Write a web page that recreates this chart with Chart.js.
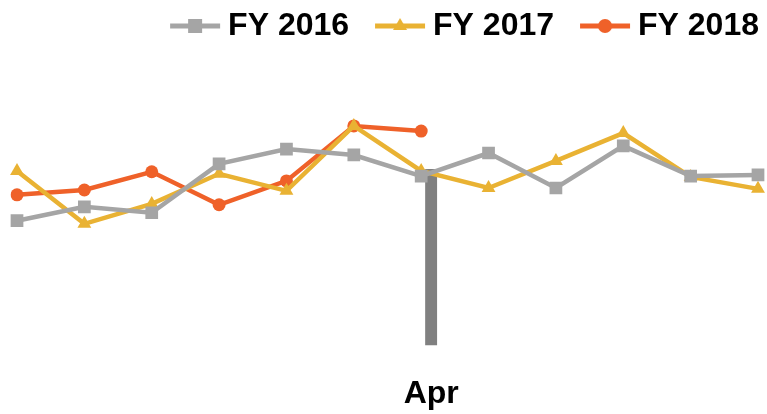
<!DOCTYPE html>
<html>
<head>
<meta charset="utf-8">
<script src="https://cdn.jsdelivr.net/npm/chart.js@4/dist/chart.umd.min.js"></script>
<style>
  html, body { margin: 0; padding: 0; background: #fff; }
  #wrap { width: 767px; height: 414px; }
</style>
</head>
<body>
<div id="wrap"><canvas id="chart"></canvas></div>
<script>
const months = ['Oct', 'Nov', 'Dec', 'Jan', 'Feb', 'Mar', 'Apr', 'May', 'Jun', 'Jul', 'Aug', 'Sep'];
const fy2016 = [43.9, 48.8, 46.7, 63.9, 69.1, 67.0, 59.6, 67.7, 55.4, 70.2, 59.6, 60.0];
const fy2017 = [61.4, 42.8, 49.8, 60.4, 54.4, 77.2, 61.4, 55.4, 64.9, 74.7, 59.3, 55.1];
const fy2018 = [53.0, 54.7, 61.1, 49.5, 57.9, 77.2, 75.4, null, null, null, null, null];
const marker = [null, null, null, null, null, null, 62.1, null, null, null, null, null];
const emptySlot = months.map(() => null);

const GRAY = '#A5A5A5';
const GOLD = '#E9B233';
const ORANGE = '#EF6129';
const FONT = '"Liberation Sans", Arial, sans-serif';

/* legend swatch: short line with the series marker on it */
function swatch(color, style) {
  const c = document.createElement('canvas');
  c.width = 86;
  c.height = 22;
  const ctx = c.getContext('2d');
  ctx.strokeStyle = color;
  ctx.fillStyle = color;
  ctx.lineWidth = 5;
  ctx.beginPath();
  ctx.moveTo(34, 11);
  ctx.lineTo(84, 11);
  ctx.stroke();
  if (style === 'rect') {
    ctx.fillRect(52, 4, 14, 14);
  } else if (style === 'triangle') {
    ctx.beginPath();
    ctx.moveTo(59, 3);
    ctx.lineTo(66, 15);
    ctx.lineTo(52, 15);
    ctx.closePath();
    ctx.fill();
  } else {
    ctx.beginPath();
    ctx.arc(59, 11, 7, 0, Math.PI * 2);
    ctx.fill();
  }
  return c;
}

function lineSet(label, data, color, style, radius) {
  return {
    type: 'line',
    label: label,
    data: data,
    borderColor: color,
    backgroundColor: color,
    borderWidth: 4.5,
    pointStyle: style,
    pointRadius: radius,
    pointHoverRadius: radius,
    pointBorderWidth: 0,
    tension: 0,
    order: 1,
    legendSwatch: swatch(color, style)
  };
}

const ctx = document.getElementById('chart').getContext('2d');
new Chart(ctx, {
  data: {
    labels: months,
    datasets: [
      lineSet('FY 2016', fy2016, GRAY, 'rect', 9),
      lineSet('FY 2017', fy2017, GOLD, 'triangle', 8),
      lineSet('FY 2018', fy2018, ORANGE, 'circle', 6.5),
      /* empty slot so the marker bar sits right of the tick, like the original */
      {
        type: 'bar',
        label: '',
        data: emptySlot,
        order: 2,
        categoryPercentage: 0.59,
        barPercentage: 0.6
      },
      {
        type: 'bar',
        label: '',
        data: marker,
        backgroundColor: '#808080',
        order: 2,
        categoryPercentage: 0.59,
        barPercentage: 0.6
      }
    ]
  },
  options: {
    responsive: true,
    maintainAspectRatio: false,
    animation: false,
    layout: { padding: { left: 17, right: 6, top: 8, bottom: 0 } },
    plugins: {
      tooltip: { enabled: false },
      legend: {
        position: 'top',
        align: 'end',
        labels: {
          usePointStyle: true,
          pointStyleWidth: 66,
          padding: 2,
          color: '#000',
          font: { family: FONT, size: 32, weight: 'bold' },
          filter: (item) => item.text !== '',
          generateLabels: (chart) => {
            const base = Chart.defaults.plugins.legend.labels.generateLabels(chart);
            return base.map((item) => {
              const ds = chart.data.datasets[item.datasetIndex];
              if (ds.legendSwatch) item.pointStyle = ds.legendSwatch;
              return item;
            });
          }
        }
      }
    },
    scales: {
      x: {
        offset: false,
        grid: { display: false, drawTicks: true, tickLength: 28 },
        border: { display: false },
        ticks: {
          autoSkip: false,
          maxRotation: 0,
          padding: 1,
          labelOffset: 10,
          color: '#000',
          font: { family: FONT, size: 32, weight: 'bold' },
          callback: function (value, index) {
            return months[index] === 'Apr' ? 'Apr' : '';
          }
        }
      },
      y: {
        display: false,
        min: 0,
        max: 103.2
      }
    }
  }
});
</script>
</body>
</html>
